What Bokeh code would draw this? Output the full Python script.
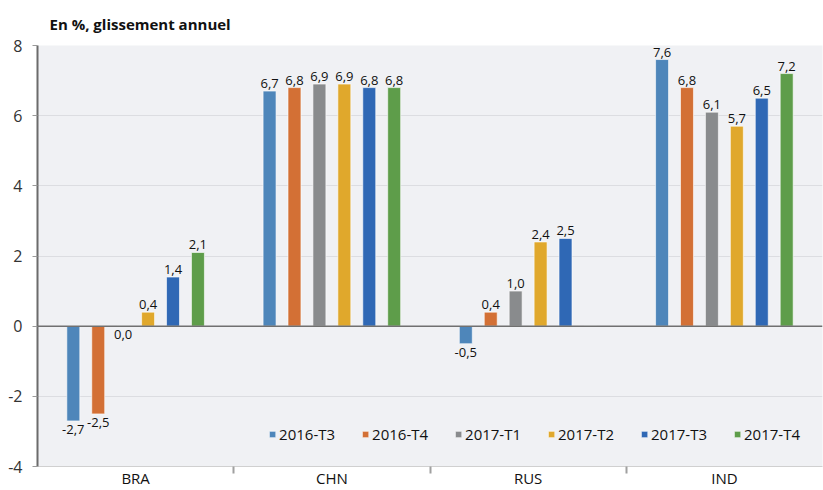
import numpy as np
from bokeh.plotting import figure
from bokeh.models import ColumnDataSource, FixedTicker, Span, Legend, LegendItem, Range1d
from bokeh.transform import dodge
from bokeh.core.properties import value
from bokeh.embed import file_html
from bokeh.resources import INLINE

categories = ["BRA", "CHN", "RUS", "IND"]
series = ["2016-T3", "2016-T4", "2017-T1", "2017-T2", "2017-T3", "2017-T4"]
v_2016_T3 = [-2.7, 6.7, -0.5, 7.6]
v_2016_T4 = [-2.5, 6.8, 0.4, 6.8]
v_2017_T1 = [0.0, 6.9, 1.0, 6.1]
v_2017_T2 = [0.4, 6.9, 2.4, 5.7]
v_2017_T3 = [1.4, 6.8, 2.5, 6.5]
v_2017_T4 = [2.1, 6.8, float("nan"), 7.2]
values = [v_2016_T3, v_2016_T4, v_2017_T1, v_2017_T2, v_2017_T3, v_2017_T4]
colors = ["#4e86ba", "#d37035", "#898b8d", "#e0a82c", "#2f68b5", "#5e9d4a"]
y_ticks = [-4, -2, 0, 2, 4, 6, 8]

FONT = "Open Sans"

p = figure(width=823, height=490, output_backend="svg", toolbar_location=None,
           x_range=Range1d(0, 4), y_range=Range1d(-4, 8),
           background_fill_color="#f0f1f4", border_fill_color="white",
           min_border_left=37, min_border_right=1, min_border_bottom=23, min_border_top=45)
p.outline_line_color = None
p.title.text = "En %, glissement annuel"
p.title.text_font = FONT
p.title.text_font_style = "bold"
p.title.text_font_size = "15px"
p.title.offset = 12
p.title.standoff = 23
p.title.text_color = "#111111"

p.xgrid.grid_line_color = None
p.ygrid.grid_line_color = "#dcdde1"
p.ygrid.grid_line_width = 1
p.yaxis.ticker = FixedTicker(ticks=y_ticks)
p.yaxis.major_label_overrides = {t: str(t) for t in y_ticks}
p.yaxis.axis_line_color = "#6b6b6b"
p.yaxis.axis_line_width = 2
p.yaxis.major_tick_line_color = "#9a9a9a"
p.yaxis.major_tick_out = 5
p.yaxis.major_tick_in = 0
p.yaxis.minor_tick_line_color = None
p.yaxis.major_label_text_font = FONT
p.yaxis.major_label_text_font_size = "16px"
p.yaxis.major_label_text_color = "#333333"
p.yaxis.major_label_standoff = 10

centers = [i + 0.5 for i in range(len(categories))]
p.xaxis.ticker = FixedTicker(ticks=centers, minor_ticks=[1, 2, 3])
p.xaxis.major_label_overrides = {c: lab for c, lab in zip(centers, categories)}
p.xaxis.major_tick_line_color = None
p.xaxis.major_tick_out = 0
p.xaxis.major_tick_in = 0
p.xaxis.minor_tick_line_color = "#a0a0a0"
p.xaxis.minor_tick_out = 7
p.xaxis.minor_tick_in = 0
p.xaxis.minor_tick_line_width = 2
p.xaxis.axis_line_color = "#d0d0d0"
p.xaxis.axis_line_width = 1
p.xaxis.major_label_text_font = FONT
p.xaxis.major_label_text_font_size = "15px"
p.xaxis.major_label_text_color = "#111111"
p.xaxis.major_label_standoff = -6

step = 0.127
offsets = [(k - 2.5) * step for k in range(6)]

items = []
for k, (s, vals, col) in enumerate(zip(series, values, colors)):
    arr = np.array(vals, dtype=float)
    labels = ["" if np.isnan(v) else ("%.1f" % v).replace(".", ",") for v in arr]
    pos = [(not np.isnan(v)) and v > 0 for v in arr]
    src_all = ColumnDataSource(dict(x=centers, top=np.nan_to_num(arr, nan=0.0), lab=labels))
    r = p.vbar(x=dodge("x", offsets[k]), top="top", bottom=0, width=0.066, source=src_all,
               fill_color=col, line_color="white", line_alpha=0.6, line_width=1)
    items.append(LegendItem(label=s, renderers=[r]))
    up = ColumnDataSource(dict(x=[c for c, q in zip(centers, pos) if q],
                               y=[v for v, q in zip(arr, pos) if q],
                               lab=[l for l, q in zip(labels, pos) if q]))
    dn = ColumnDataSource(dict(x=[c for c, q, v in zip(centers, pos, arr) if not q and not np.isnan(v)],
                               y=[v for v, q in zip(arr, pos) if not q and not np.isnan(v)],
                               lab=[l for l, q, v in zip(labels, pos, arr) if not q and not np.isnan(v)]))
    p.text(x=dodge("x", offsets[k]), y="y", text="lab", source=up, text_align="center",
           text_baseline="bottom", y_offset=-3, text_font=value(FONT), text_font_size="13px",
           text_color="#111111")
    p.text(x=dodge("x", offsets[k]), y="y", text="lab", source=dn, text_align="center",
           text_baseline="top", y_offset=4, text_font=value(FONT), text_font_size="13px",
           text_color="#111111")

p.add_layout(Span(location=0, dimension="width", line_color="#707070", line_width=1.5))

legend = Legend(items=items, orientation="horizontal", location="bottom_right",
                background_fill_alpha=0, border_line_color=None,
                label_text_font=FONT, label_text_font_size="15px", label_text_color="#111111",
                glyph_width=8, glyph_height=8, label_standoff=3, spacing=26,
                margin=22, padding=0)
p.add_layout(legend)

open("out.html", "w").write(file_html(p, INLINE))
